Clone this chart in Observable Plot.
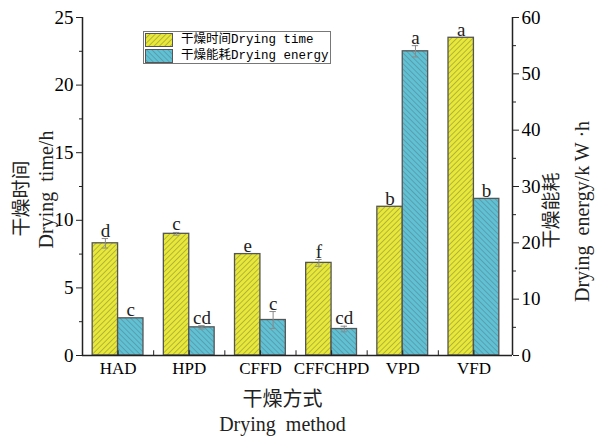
<!DOCTYPE html>
<html><head><meta charset="utf-8">
<script src="https://cdn.jsdelivr.net/npm/d3@7"></script>
<script src="https://cdn.jsdelivr.net/npm/@observablehq/plot@0.6"></script>
<style>
body{margin:0;background:#fff;}
#wrap{position:relative;width:596px;height:436px;}
#legend{position:absolute;left:143px;top:31px;width:186px;height:31px;border:1px solid #777;background:#fff;}
.lrow{position:absolute;left:1px;height:14px;display:flex;align-items:center;white-space:nowrap;}
.lrow svg{display:block;}
.ltxt{margin-left:8px;font-size:12.5px;line-height:14px;font-family:"Liberation Mono","Noto Sans CJK SC",monospace;}
</style></head><body>
<svg width="0" height="0" style="position:absolute">
<defs>
<pattern id="hatchY" patternUnits="userSpaceOnUse" width="3.8" height="3.8" patternTransform="rotate(45)">
<rect width="3.8" height="3.8" fill="#e8e936"></rect>
<line x1="0" y1="0" x2="0" y2="3.8" stroke="#7d7d50" stroke-width="1"></line>
</pattern>
<pattern id="hatchB" patternUnits="userSpaceOnUse" width="3.8" height="3.8" patternTransform="rotate(-45)">
<rect width="3.8" height="3.8" fill="#5fc1d4"></rect>
<line x1="0" y1="0" x2="0" y2="3.8" stroke="#5a7a84" stroke-width="1"></line>
</pattern>
</defs>
</svg>
<div id="wrap"></div>
<script>
const methods = ["HAD", "HPD", "CFFD", "CFFCHPD", "VPD", "VFD"];
const dryingTime = [8.3, 9.0, 7.5, 6.85, 11.0, 23.5];
const dryingTimeErr = [0.35, 0.1, 0, 0.25, 0, 0];
const dryingTimeLetters = ["d", "c", "e", "f", "b", "a"];
const dryingEnergy = [6.6, 5.0, 6.3, 4.7, 54.0, 27.8];
const dryingEnergyErr = [0, 0.3, 1.5, 0.5, 1.0, 0];
const dryingEnergyLetters = ["c", "cd", "c", "cd", "a", "b"];
const leftTicks = [0, 5, 10, 15, 20, 25];
const rightTicks = [0, 10, 20, 30, 40, 50, 60];
const legendCn = ["干燥时间", "干燥能耗"];
const legendEn = ["Drying time", "Drying energy"];

const N = methods.length;
const k = 25 / 60;      // energy units -> left axis units
const W = 0.357;        // bar width as fraction of a group
const rows = methods.map((m, i) => ({
  m, i,
  time: dryingTime[i], tErr: dryingTimeErr[i], tLab: dryingTimeLetters[i],
  energy: dryingEnergy[i] * k, eErr: dryingEnergyErr[i] * k, eLab: dryingEnergyLetters[i]
}));
const tx = d => d.i + 0.5 - W / 2;
const ex = d => d.i + 0.5 + W / 2;
const cap = 0.045;
const errT = rows.filter(d => d.tErr > 0);
const errE = rows.filter(d => d.eErr > 0);
const centers = methods.map((m, i) => i + 0.5);
const bounds = d3.range(1, N);
const errColor = "#8a8a8a";
const title = {textAnchor: "middle", lineAnchor: "middle", fill: "#222"};

const chart = Plot.plot({
  width: 596, height: 436,
  marginLeft: 82, marginRight: 84, marginTop: 17, marginBottom: 81,
  x: {domain: [0, N], insetRight: 3},
  y: {domain: [0, 25]},
  style: {fontFamily: "Liberation Serif", fontSize: "17px", color: "#000", background: "transparent"},
  marks: [
    Plot.rectY(rows, {x1: d => d.i + 0.5 - W, x2: d => d.i + 0.5, y1: 0, y2: "time", fill: "url(#hatchY)", stroke: "#555", strokeWidth: 1.3}),
    Plot.rectY(rows, {x1: d => d.i + 0.5, x2: d => d.i + 0.5 + W, y1: 0, y2: "energy", fill: "url(#hatchB)", stroke: "#555", strokeWidth: 1.3}),
    Plot.ruleX(errT, {x: tx, y1: d => d.time - d.tErr, y2: d => d.time + d.tErr, stroke: errColor}),
    Plot.ruleY(errT, {x1: d => tx(d) - cap, x2: d => tx(d) + cap, y: d => d.time + d.tErr, stroke: errColor}),
    Plot.ruleY(errT, {x1: d => tx(d) - cap, x2: d => tx(d) + cap, y: d => d.time - d.tErr, stroke: errColor}),
    Plot.ruleX(errE, {x: ex, y1: d => d.energy - d.eErr, y2: d => d.energy + d.eErr, stroke: errColor}),
    Plot.ruleY(errE, {x1: d => ex(d) - cap, x2: d => ex(d) + cap, y: d => d.energy + d.eErr, stroke: errColor}),
    Plot.ruleY(errE, {x1: d => ex(d) - cap, x2: d => ex(d) + cap, y: d => d.energy - d.eErr, stroke: errColor}),
    Plot.text(rows, {x: tx, y: d => d.time + d.tErr, text: "tLab", dy: -2, lineAnchor: "bottom", fontSize: 19, fill: "#222"}),
    Plot.text(rows, {x: ex, y: d => d.energy + d.eErr, text: "eLab", dy: -2, lineAnchor: "bottom", fontSize: 19, fill: "#222"}),
    // axis lines
    Plot.ruleX([0], {stroke: "#222", strokeWidth: 1.5}),
    Plot.ruleX([N], {dx: 3, stroke: "#222", strokeWidth: 1.5}),
    Plot.ruleY([0], {stroke: "#222", strokeWidth: 1.5}),
    // bottom inward ticks
    Plot.ruleX(centers, {x: d => d, y1: 0, y2: 0.35, stroke: "#222"}),
    Plot.ruleX(bounds, {x: d => d, y1: 0, y2: 0.35, stroke: "#222"}),
    Plot.axisX({ticks: centers, tickFormat: d => methods[Math.floor(d)], tickSize: 0, tickPadding: 6, label: null, fontSize: 17}),
    // left axis
    Plot.axisY({anchor: "left", ticks: leftTicks, tickSize: 6, tickPadding: 3, label: null, fontSize: 19, stroke: "#222"}),
    Plot.axisY({anchor: "left", ticks: leftTicks.slice(1).map(v => v - 2.5), tickSize: 3, tickFormat: () => "", label: null, stroke: "#222"}),
    // right axis (energy)
    Plot.axisY({anchor: "right", ticks: rightTicks.map(v => v * k), tickFormat: d => Math.round(d / k), tickSize: 6, tickPadding: 3, label: null, fontSize: 19, stroke: "#222"}),
    Plot.axisY({anchor: "right", ticks: rightTicks.slice(1).map(v => (v - 5) * k), tickSize: 3, tickFormat: () => "", label: null, stroke: "#222"}),
    // axis titles
    Plot.text(["干燥时间"], {...title, frameAnchor: "left", dx: -61, dy: 12, rotate: -90, fontFamily: "Noto Sans CJK SC", fontSize: 19}),
    Plot.text(["Drying  time/h"], {...title, frameAnchor: "left", dx: -36, dy: 3, rotate: -90, fontSize: 20}),
    Plot.text(["干燥能耗"], {...title, frameAnchor: "right", dx: 39, dy: 24, rotate: -90, fontFamily: "Noto Sans CJK SC", fontSize: 19}),
    Plot.text(["Drying  energy/k W ·h"], {...title, frameAnchor: "right", dx: 70, dy: 25, rotate: -90, fontSize: 20}),
    Plot.text(["干燥方式"], {...title, frameAnchor: "bottom", dx: -15, dy: 44, fontFamily: "Noto Sans CJK SC", fontSize: 20}),
    Plot.text(["Drying  method"], {...title, frameAnchor: "bottom", dx: -15, dy: 69, fontSize: 20})
  ]
});

const wrap = document.getElementById("wrap");
wrap.appendChild(chart);

const legend = document.createElement("div");
legend.id = "legend";
const fills = ["url(#hatchY)", "url(#hatchB)"];
legendCn.forEach((cn, j) => {
  const row = document.createElement("div");
  row.className = "lrow";
  row.style.top = (1 + j * 15.5) + "px";
  row.innerHTML = `<svg width="28" height="14"><rect x="0.5" y="0.5" width="27" height="13" fill="${fills[j]}" stroke="#555" stroke-width="1"></rect></svg>` +
    `<span class="ltxt">${cn}${legendEn[j]}</span>`;
  legend.appendChild(row);
});
wrap.appendChild(legend);
</script>
</body></html>
